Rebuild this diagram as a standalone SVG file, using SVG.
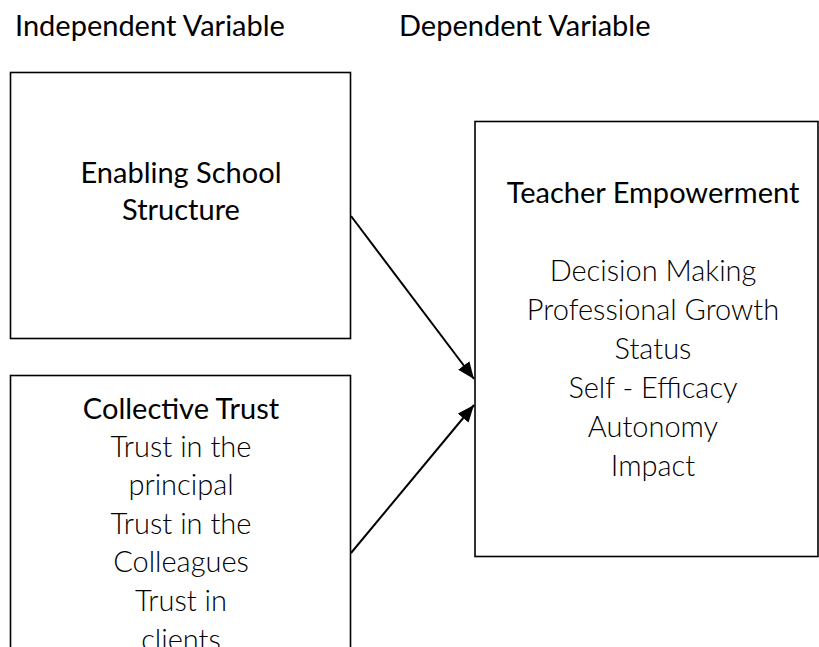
<svg xmlns="http://www.w3.org/2000/svg" width="819" height="647" viewBox="0 0 819 647">
<style>
.box{fill:#fff;stroke:#000;stroke-width:1.6}
.h{font-family:Lato,"Open Sans",sans-serif;font-size:29px;fill:#000;text-anchor:middle}
.l{font-family:Lato,"Open Sans",sans-serif;font-weight:300;font-size:29px;fill:#000;text-anchor:middle}
.t{font-family:Lato,"Open Sans",sans-serif;font-size:29px;fill:#000}
.c{stroke:#000;stroke-width:2;fill:none}
</style>
<defs>
<marker id="ah" markerUnits="userSpaceOnUse" markerWidth="18" markerHeight="14" refX="17" refY="7" orient="auto">
<path d="M0,0 L17,7 L0,14 Z" fill="#000"/>
</marker>
</defs>
<rect width="819" height="647" fill="#fff"/>
<text class="t" x="15" y="36">Independent Variable</text>
<text class="t" x="399" y="36">Dependent Variable</text>
<g id="enabling">
<rect class="box" x="10.5" y="72.5" width="340" height="266"/>
<text class="h" x="181" y="183">Enabling School</text>
<text class="h" x="181" y="220">Structure</text>
</g>
<g id="trust">
<rect class="box" x="10.5" y="375.5" width="340" height="290"/>
<text class="h" x="181" y="419">Collective Trust</text>
<text class="l" x="181" y="457">Trust in the</text>
<text class="l" x="181" y="495">principal</text>
<text class="l" x="181" y="534">Trust in the</text>
<text class="l" x="181" y="572">Colleagues</text>
<text class="l" x="181" y="611">Trust in</text>
<text class="l" x="181" y="650">clients</text>
</g>
<g id="empowerment">
<rect class="box" x="475" y="121.5" width="343" height="435"/>
<text class="h" x="653" y="203">Teacher Empowerment</text>
<text class="l" x="653" y="281">Decision Making</text>
<text class="l" x="653" y="320">Professional Growth</text>
<text class="l" x="653" y="359">Status</text>
<text class="l" x="653" y="398">Self - Efficacy</text>
<text class="l" x="653" y="437">Autonomy</text>
<text class="l" x="653" y="476">Impact</text>
</g>
<g id="connectors">
<line class="c" x1="351" y1="216" x2="474" y2="379" marker-end="url(#ah)"/>
<line class="c" x1="351" y1="553" x2="474" y2="405" marker-end="url(#ah)"/>
</g>
</svg>
